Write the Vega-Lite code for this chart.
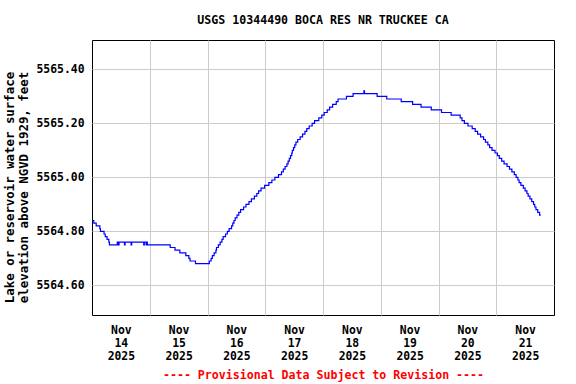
{
  "$schema": "https://vega.github.io/schema/vega-lite/v6.json",
  "width": 462,
  "height": 275,
  "autosize": {"type": "none"},
  "padding": {"left": 92, "top": 40, "right": 22, "bottom": 69},
  "background": "#FFFFFF",
  "title": {
    "text": "USGS 10344490 BOCA RES NR TRUCKEE CA",
    "anchor": "middle",
    "frame": "group",
    "font": "DejaVu Sans Mono",
    "fontSize": 11.6,
    "fontWeight": "bold",
    "color": "#000000",
    "offset": 13
  },
  "config": {
    "view": {"stroke": "#000000", "strokeWidth": 1},
    "font": "DejaVu Sans Mono",
    "axis": {
      "labelFont": "DejaVu Sans Mono",
      "labelFontSize": 11.4,
      "labelFontWeight": "bold",
      "labelColor": "#000000",
      "titleFont": "DejaVu Sans Mono",
      "titleFontWeight": "bold",
      "titleColor": "#000000",
      "gridColor": "#CCCCCC",
      "gridWidth": 1,
      "domain": false,
      "ticks": false
    }
  },
  "data": {
    "values": [
      {"t": "2025-11-14T00:00", "v": 5564.84},
      {"t": "2025-11-14T00:45", "v": 5564.83},
      {"t": "2025-11-14T01:45", "v": 5564.82},
      {"t": "2025-11-14T03:15", "v": 5564.81},
      {"t": "2025-11-14T03:30", "v": 5564.80},
      {"t": "2025-11-14T05:00", "v": 5564.79},
      {"t": "2025-11-14T05:30", "v": 5564.78},
      {"t": "2025-11-14T06:15", "v": 5564.77},
      {"t": "2025-11-14T07:00", "v": 5564.76},
      {"t": "2025-11-14T07:15", "v": 5564.75},
      {"t": "2025-11-14T10:30", "v": 5564.76},
      {"t": "2025-11-14T11:00", "v": 5564.75},
      {"t": "2025-11-14T11:15", "v": 5564.76},
      {"t": "2025-11-14T13:30", "v": 5564.75},
      {"t": "2025-11-14T13:45", "v": 5564.76},
      {"t": "2025-11-14T16:15", "v": 5564.75},
      {"t": "2025-11-14T16:30", "v": 5564.76},
      {"t": "2025-11-14T21:30", "v": 5564.75},
      {"t": "2025-11-14T21:45", "v": 5564.76},
      {"t": "2025-11-14T22:30", "v": 5564.75},
      {"t": "2025-11-14T22:45", "v": 5564.76},
      {"t": "2025-11-14T23:00", "v": 5564.75},
      {"t": "2025-11-15T08:30", "v": 5564.74},
      {"t": "2025-11-15T10:30", "v": 5564.73},
      {"t": "2025-11-15T12:30", "v": 5564.72},
      {"t": "2025-11-15T15:00", "v": 5564.71},
      {"t": "2025-11-15T16:15", "v": 5564.70},
      {"t": "2025-11-15T16:45", "v": 5564.69},
      {"t": "2025-11-15T19:00", "v": 5564.68},
      {"t": "2025-11-16T00:45", "v": 5564.69},
      {"t": "2025-11-16T01:30", "v": 5564.70},
      {"t": "2025-11-16T02:00", "v": 5564.71},
      {"t": "2025-11-16T02:45", "v": 5564.72},
      {"t": "2025-11-16T03:30", "v": 5564.73},
      {"t": "2025-11-16T03:45", "v": 5564.74},
      {"t": "2025-11-16T04:30", "v": 5564.75},
      {"t": "2025-11-16T05:15", "v": 5564.76},
      {"t": "2025-11-16T06:00", "v": 5564.77},
      {"t": "2025-11-16T06:30", "v": 5564.78},
      {"t": "2025-11-16T07:30", "v": 5564.79},
      {"t": "2025-11-16T08:15", "v": 5564.80},
      {"t": "2025-11-16T09:00", "v": 5564.81},
      {"t": "2025-11-16T10:00", "v": 5564.82},
      {"t": "2025-11-16T10:30", "v": 5564.83},
      {"t": "2025-11-16T11:00", "v": 5564.84},
      {"t": "2025-11-16T11:30", "v": 5564.85},
      {"t": "2025-11-16T12:15", "v": 5564.86},
      {"t": "2025-11-16T13:00", "v": 5564.87},
      {"t": "2025-11-16T13:45", "v": 5564.88},
      {"t": "2025-11-16T15:00", "v": 5564.89},
      {"t": "2025-11-16T16:00", "v": 5564.90},
      {"t": "2025-11-16T17:15", "v": 5564.91},
      {"t": "2025-11-16T18:15", "v": 5564.92},
      {"t": "2025-11-16T19:30", "v": 5564.93},
      {"t": "2025-11-16T20:30", "v": 5564.94},
      {"t": "2025-11-16T21:15", "v": 5564.95},
      {"t": "2025-11-16T22:15", "v": 5564.96},
      {"t": "2025-11-16T23:45", "v": 5564.97},
      {"t": "2025-11-17T01:30", "v": 5564.98},
      {"t": "2025-11-17T02:45", "v": 5564.99},
      {"t": "2025-11-17T04:00", "v": 5565.00},
      {"t": "2025-11-17T05:30", "v": 5565.01},
      {"t": "2025-11-17T06:45", "v": 5565.02},
      {"t": "2025-11-17T07:30", "v": 5565.03},
      {"t": "2025-11-17T08:15", "v": 5565.04},
      {"t": "2025-11-17T09:00", "v": 5565.05},
      {"t": "2025-11-17T09:30", "v": 5565.06},
      {"t": "2025-11-17T10:00", "v": 5565.07},
      {"t": "2025-11-17T10:30", "v": 5565.08},
      {"t": "2025-11-17T11:00", "v": 5565.09},
      {"t": "2025-11-17T11:15", "v": 5565.10},
      {"t": "2025-11-17T11:45", "v": 5565.11},
      {"t": "2025-11-17T12:15", "v": 5565.12},
      {"t": "2025-11-17T12:45", "v": 5565.13},
      {"t": "2025-11-17T13:30", "v": 5565.14},
      {"t": "2025-11-17T14:30", "v": 5565.15},
      {"t": "2025-11-17T15:30", "v": 5565.16},
      {"t": "2025-11-17T16:30", "v": 5565.17},
      {"t": "2025-11-17T17:15", "v": 5565.18},
      {"t": "2025-11-17T18:15", "v": 5565.19},
      {"t": "2025-11-17T19:30", "v": 5565.20},
      {"t": "2025-11-17T20:30", "v": 5565.21},
      {"t": "2025-11-17T22:15", "v": 5565.22},
      {"t": "2025-11-17T23:30", "v": 5565.23},
      {"t": "2025-11-18T00:30", "v": 5565.24},
      {"t": "2025-11-18T01:45", "v": 5565.25},
      {"t": "2025-11-18T02:45", "v": 5565.26},
      {"t": "2025-11-18T04:00", "v": 5565.27},
      {"t": "2025-11-18T05:30", "v": 5565.28},
      {"t": "2025-11-18T06:15", "v": 5565.29},
      {"t": "2025-11-18T09:45", "v": 5565.30},
      {"t": "2025-11-18T12:30", "v": 5565.31},
      {"t": "2025-11-18T17:00", "v": 5565.32},
      {"t": "2025-11-18T17:15", "v": 5565.31},
      {"t": "2025-11-18T22:30", "v": 5565.30},
      {"t": "2025-11-19T02:30", "v": 5565.29},
      {"t": "2025-11-19T08:30", "v": 5565.28},
      {"t": "2025-11-19T13:15", "v": 5565.27},
      {"t": "2025-11-19T16:45", "v": 5565.26},
      {"t": "2025-11-19T21:00", "v": 5565.25},
      {"t": "2025-11-20T01:15", "v": 5565.24},
      {"t": "2025-11-20T05:15", "v": 5565.23},
      {"t": "2025-11-20T09:00", "v": 5565.22},
      {"t": "2025-11-20T09:45", "v": 5565.21},
      {"t": "2025-11-20T10:45", "v": 5565.20},
      {"t": "2025-11-20T12:15", "v": 5565.19},
      {"t": "2025-11-20T14:00", "v": 5565.18},
      {"t": "2025-11-20T15:15", "v": 5565.17},
      {"t": "2025-11-20T16:15", "v": 5565.16},
      {"t": "2025-11-20T17:30", "v": 5565.15},
      {"t": "2025-11-20T18:45", "v": 5565.14},
      {"t": "2025-11-20T19:30", "v": 5565.13},
      {"t": "2025-11-20T20:30", "v": 5565.12},
      {"t": "2025-11-20T21:15", "v": 5565.11},
      {"t": "2025-11-20T22:15", "v": 5565.10},
      {"t": "2025-11-20T23:30", "v": 5565.09},
      {"t": "2025-11-21T00:30", "v": 5565.08},
      {"t": "2025-11-21T01:15", "v": 5565.07},
      {"t": "2025-11-21T02:15", "v": 5565.06},
      {"t": "2025-11-21T03:15", "v": 5565.05},
      {"t": "2025-11-21T04:30", "v": 5565.04},
      {"t": "2025-11-21T05:30", "v": 5565.03},
      {"t": "2025-11-21T06:30", "v": 5565.02},
      {"t": "2025-11-21T07:30", "v": 5565.01},
      {"t": "2025-11-21T08:15", "v": 5565.00},
      {"t": "2025-11-21T09:00", "v": 5564.99},
      {"t": "2025-11-21T09:30", "v": 5564.98},
      {"t": "2025-11-21T10:15", "v": 5564.97},
      {"t": "2025-11-21T11:15", "v": 5564.96},
      {"t": "2025-11-21T12:00", "v": 5564.95},
      {"t": "2025-11-21T12:45", "v": 5564.94},
      {"t": "2025-11-21T13:15", "v": 5564.93},
      {"t": "2025-11-21T14:00", "v": 5564.92},
      {"t": "2025-11-21T14:45", "v": 5564.91},
      {"t": "2025-11-21T15:30", "v": 5564.90},
      {"t": "2025-11-21T16:00", "v": 5564.89},
      {"t": "2025-11-21T16:30", "v": 5564.88},
      {"t": "2025-11-21T17:15", "v": 5564.87},
      {"t": "2025-11-21T18:00", "v": 5564.86},
      {"t": "2025-11-21T18:30", "v": 5564.86}
    ]
  },
  "mark": {"type": "line", "interpolate": "step-after", "color": "#0000FF", "strokeWidth": 1.2},
  "encoding": {
    "x": {
      "field": "t",
      "type": "temporal",
      "scale": {
        "domain": [
          {"year": 2025, "month": 11, "date": 14},
          {"year": 2025, "month": 11, "date": 22}
        ]
      },
      "axis": {
        "values": [
          {"year": 2025, "month": 11, "date": 14},
          {"year": 2025, "month": 11, "date": 15},
          {"year": 2025, "month": 11, "date": 16},
          {"year": 2025, "month": 11, "date": 17},
          {"year": 2025, "month": 11, "date": 18},
          {"year": 2025, "month": 11, "date": 19},
          {"year": 2025, "month": 11, "date": 20},
          {"year": 2025, "month": 11, "date": 21}
        ],
        "grid": true,
        "gridOpacity": {"condition": {"test": "datum.index == 0", "value": 0}, "value": 1},
        "labelExpr": "[timeFormat(datum.value, '%b'), timeFormat(datum.value, '%d'), timeFormat(datum.value, '%Y')]",
        "labelOffset": 28.875,
        "labelAlign": "center",
        "labelBaseline": "top",
        "labelPadding": 9,
        "labelLineHeight": 13,
        "labelOverlap": false,
        "labelBound": false,
        "labelFlush": false,
        "title": "---- Provisional Data Subject to Revision ----",
        "titleColor": "#FF0000",
        "titleFontSize": 11.6,
        "titlePadding": 8
      }
    },
    "y": {
      "field": "v",
      "type": "quantitative",
      "scale": {"domain": [5564.49, 5565.5085], "zero": false, "nice": false},
      "axis": {
        "values": [5564.6, 5564.8, 5565.0, 5565.2, 5565.4],
        "format": ".2f",
        "grid": true,
        "labelPadding": 8,
        "title": ["Lake or reservoir water surface", "elevation above NGVD 1929, feet"],
        "titleFontSize": 12.4,
        "titleLineHeight": 14,
        "titleX": -83,
        "titleY": 147,
        "titleAngle": -90,
        "titleAlign": "center",
        "titleBaseline": "middle"
      }
    }
  }
}
